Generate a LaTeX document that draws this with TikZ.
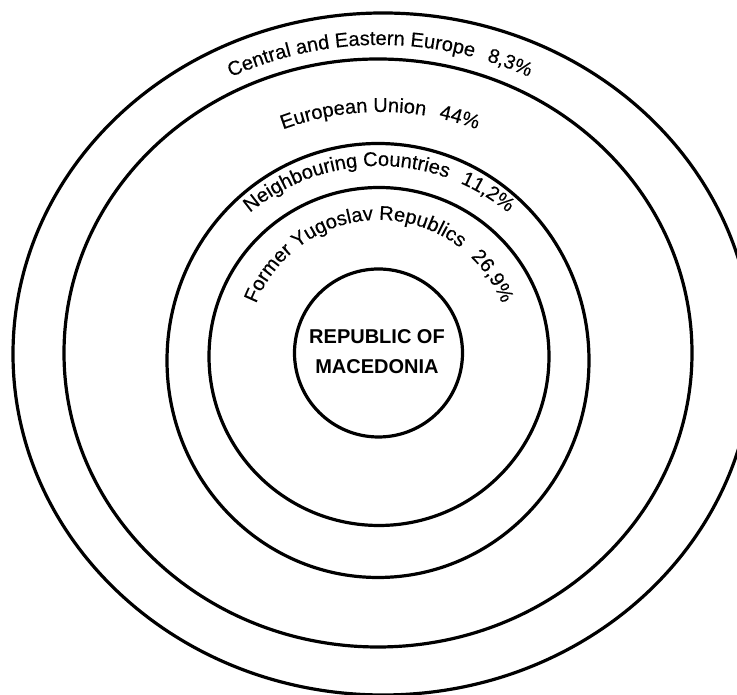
\documentclass[tikz,border=0pt]{standalone}
\usepackage{fontspec}
\setmainfont{Liberation Sans}
\newfontfamily\heavyfont{Liberation Sans}[FakeBold=0.35]
\usetikzlibrary{decorations.text}
\begin{document}
\begin{tikzpicture}[x=1pt,y=1pt,
  ring/.style={line width=3.2pt},
  arctext/.style={decorate, decoration={text along path, text align=center, text={|\heavyfont\fontsize{20}{24}\selectfont|#1}}}]
\useasboundingbox (0,0) rectangle (737,695);
\begin{scope}
\clip (0,0) rectangle (737,695);
\draw[ring] (383,341) ellipse [x radius=370, y radius=341];
\draw[ring] (378,342) ellipse [x radius=314, y radius=294];
\draw[ring] (378,334.5) ellipse [x radius=211, y radius=217];
\draw[ring] (379,338.5) ellipse [x radius=170, y radius=169];
\draw[ring] (378.5,342) circle [radius=84];
\end{scope}
\path[arctext={Central and Eastern Europe {\kern8pt}8,3{\%}}]
  (380,341) ++(160:335 and 309) arc[start angle=160, end angle=20, x radius=335, y radius=309];
\path[arctext={European Union {\kern8pt}44{\%}}]
  (380,341) ++(150:260 and 242) arc[start angle=150, end angle=30, x radius=260, y radius=242];
\path[arctext={Neighbouring Countries {\kern8pt}11,2{\%}}]
  (379,328) ++(150:201) arc[start angle=150, end angle=30, radius=201];
\path[arctext={Former Yugoslav Republics {\kern8pt}26,9{\%}}]
  (379,343) ++(175:132) arc[start angle=175, end angle=5, radius=132];
\node[font=\fontsize{20}{30}\selectfont\bfseries, align=center] (rm) at (377,343) {REPUBLIC OF\\MACEDONIA};
\end{tikzpicture}
\end{document}
